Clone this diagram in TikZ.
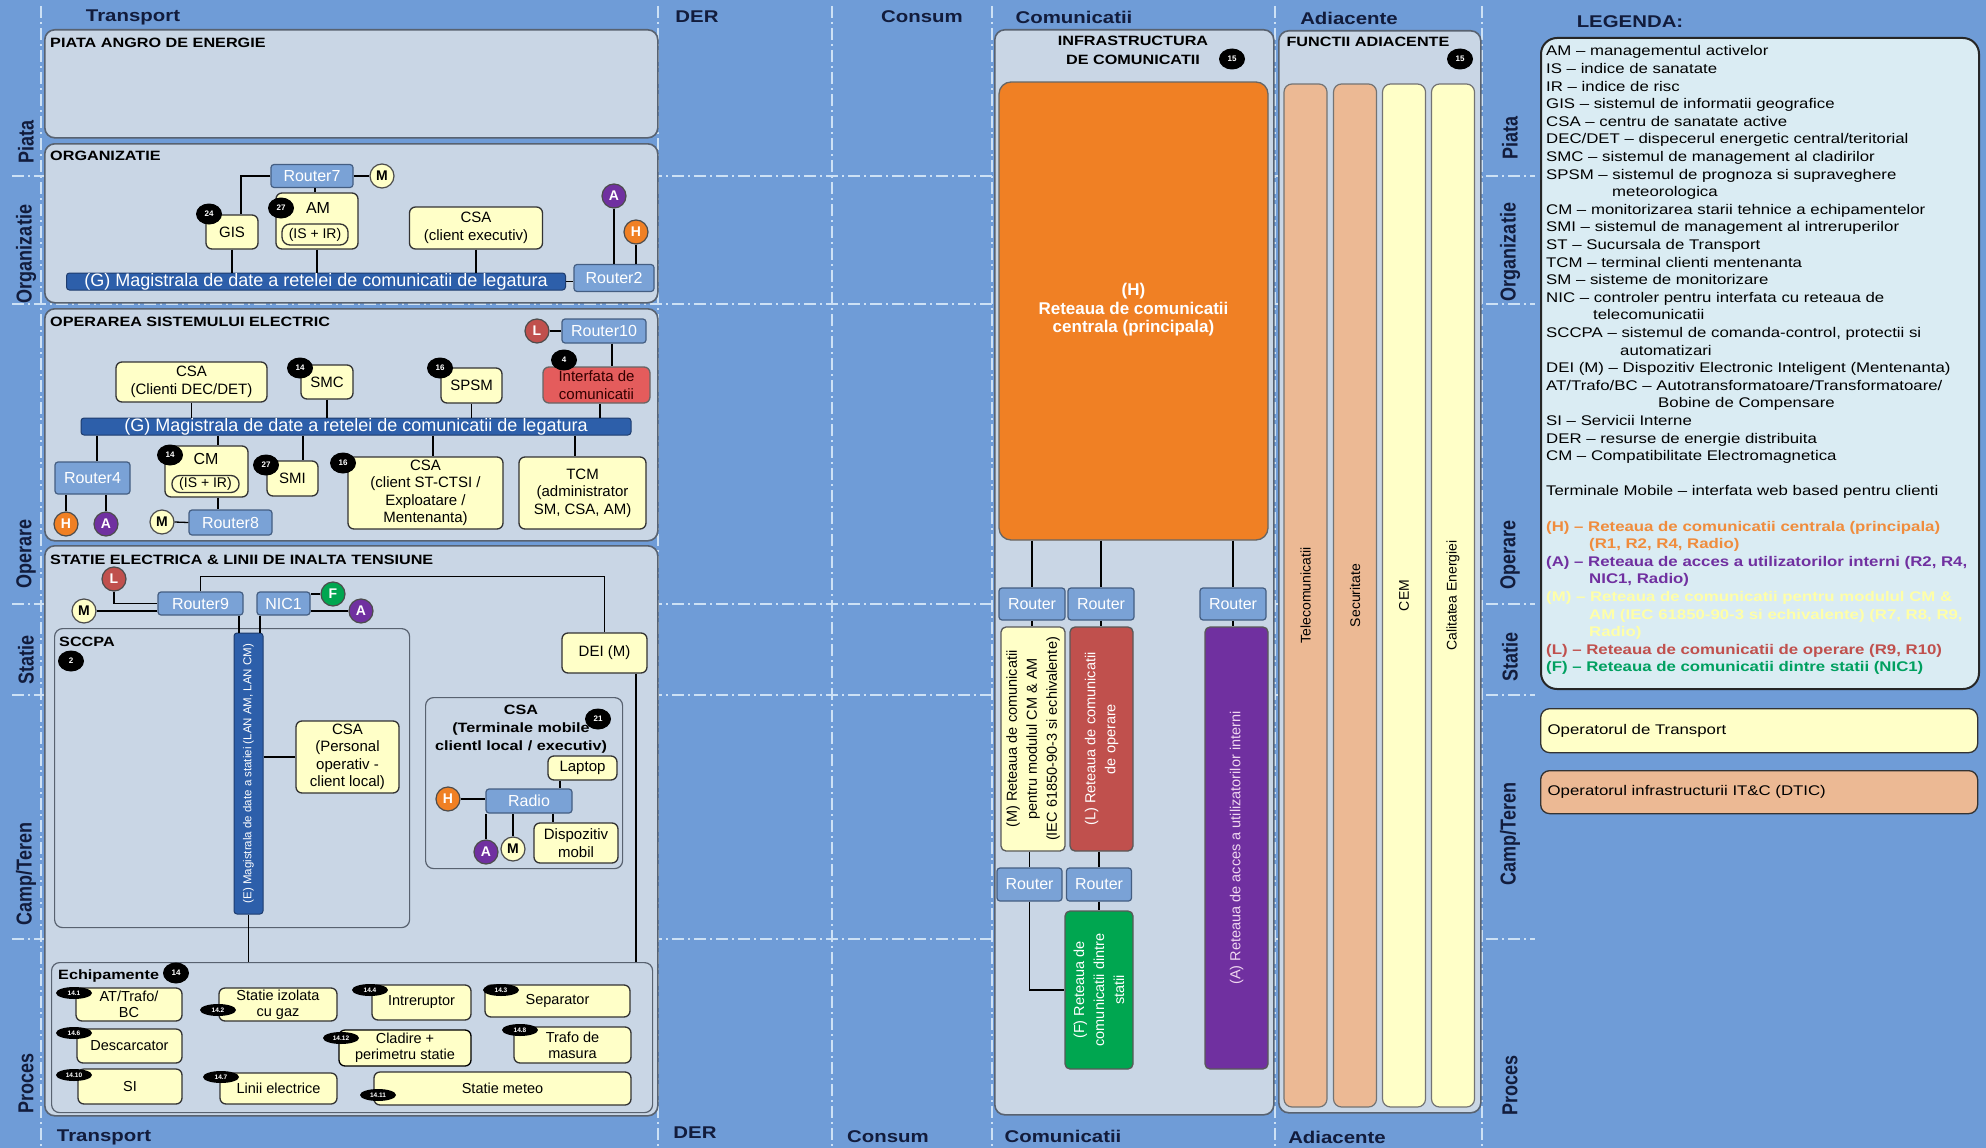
\documentclass[tikz,border=0pt]{standalone}
\usepackage{graphicx}
\usepackage{fontspec}
\setmainfont{Liberation Sans}
\newfontfamily\widefont[FakeStretch=1.2]{Liberation Sans}
\usetikzlibrary{positioning,calc,shapes.geometric}

\newcommand{\fz}[2]{\fontsize{#1}{#2}\selectfont}
\newcommand{\tallrow}[1]{\scalebox{1}[1.2]{#1}}

\definecolor{bgblue}{RGB}{111,156,215}
\definecolor{gridcol}{RGB}{205,225,245}
\definecolor{navy}{RGB}{18,28,60}
\definecolor{panelfill}{RGB}{201,214,229}
\definecolor{panelline}{RGB}{88,98,112}
\definecolor{cream}{RGB}{255,255,200}
\definecolor{routerfill}{RGB}{122,162,214}
\definecolor{routerline}{RGB}{68,94,130}
\definecolor{busfill}{RGB}{45,95,170}
\definecolor{busline}{RGB}{30,60,110}
\definecolor{netH}{RGB}{240,128,36}
\definecolor{netA}{RGB}{112,48,160}
\definecolor{netL}{RGB}{192,80,77}
\definecolor{netF}{RGB}{0,166,80}
\definecolor{intred}{RGB}{228,92,92}
\definecolor{peach}{RGB}{236,185,148}
\definecolor{legfill}{RGB}{218,236,243}
\definecolor{legH}{RGB}{240,140,60}
\definecolor{legA}{RGB}{112,48,160}
\definecolor{legM}{RGB}{255,255,168}
\definecolor{legL}{RGB}{192,80,77}
\definecolor{legF}{RGB}{0,160,96}
\definecolor{atext}{RGB}{240,215,240}

\tikzset{
  panel/.style={draw=panelline, fill=panelfill, rounded corners=10pt, line width=1.6pt, inner sep=0pt, anchor=north west},
  subpanel/.style={draw=panelline, fill=panelfill, rounded corners=8pt, line width=1.2pt, inner sep=0pt, anchor=north west},
  ptitle/.style={font=\widefont\bfseries\fz{13.5}{17}, anchor=west, inner sep=0pt, text=black},
  header/.style={font=\widefont\bfseries\fz{17}{20}, text=navy, inner sep=0pt},
  rowlbl/.style={font=\bfseries\fz{18}{20}, text=navy, rotate=90, inner sep=0pt},
  leaf/.style={draw=black!80, fill=cream, rounded corners=6pt, line width=1.3pt, align=center, inner sep=0pt, font=\fz{15}{17.5}},
  router/.style={draw=routerline, fill=routerfill, rounded corners=3pt, line width=1.2pt, inner sep=0pt, text=white, font=\fz{16}{18}},
  bus/.style={draw=busline, fill=busfill, rounded corners=3pt, line width=1pt, inner sep=0pt, text=white, font=\fz{18}{20}},
  net/.style={circle, draw=black!70, line width=1.2pt, inner sep=0pt, minimum size=24pt, text=white, font=\bfseries\fz{14}{14}},
  badge/.style={ellipse, fill=black, inner sep=0pt, minimum width=26pt, minimum height=21pt, text=white, font=\bfseries\fz{8}{8}},
  minibadge/.style={ellipse, fill=black, inner sep=0pt, minimum width=36pt, minimum height=12pt, text=white, font=\bfseries\fz{6.5}{7}},
  netbox/.style={draw=black!65, rounded corners=5pt, line width=1.3pt, inner sep=0pt, minimum width=63, minimum height=224},
  colbox/.style={draw=black!55, rounded corners=8pt, line width=1.2pt, inner sep=0pt, rotate=90, minimum width=1023, minimum height=43, font=\fz{14}{16}},
  wire/.style={line width=1.3pt, black},
  gridln/.style={gridcol, line width=1.3pt, dash pattern=on 12pt off 4pt on 2pt off 4pt},
}

\begin{document}
\begin{tikzpicture}[x=1pt,y=-1pt]
        \useasboundingbox (0,0) rectangle (1986,1148);
        \fill[bgblue] (0,0) rectangle (1986,1148);

        % row and column guide lines
        \foreach \yy in {176,304,604,695,939} \draw[gridln] (12,\yy) -- (1535,\yy);
        \foreach \xx in {41,658,832,992,1275,1482} \draw[gridln] (\xx,6) -- (\xx,1148);

        % column headers, top and bottom
        \node[header] (hTransport) at (133,17) {Transport};
        \node[header] (hDer) at (697,17) {DER};
        \node[header] (hConsum) at (922,17) {Consum};
        \node[header] (hComm) at (1074,17) {Comunicatii};
        \node[header] (hAdj) at (1349,18) {Adiacente};
        \node[header] (hLegend) at (1630,22) {LEGENDA:};
        \node[header] (fTransport) at (104,1137) {Transport};
        \node[header] (fDer) at (695,1133) {DER};
        \node[header] (fConsum) at (888,1137) {Consum};
        \node[header] (fComm) at (1063,1136) {Comunicatii};
        \node[header] (fAdj) at (1337,1137) {Adiacente};

        % row labels, left and right
        \node[rowlbl] (lPiata) at (26,142) {\tallrow{Piata}};
        \node[rowlbl] (lOrg) at (26,254) {\tallrow{Organizatie}};
        \node[rowlbl] (lOper) at (26,554) {\tallrow{Operare}};
        \node[rowlbl] (lStatie) at (26,660) {\tallrow{Statie}};
        \node[rowlbl] (lCamp) at (26,874) {\tallrow{Camp/Teren}};
        \node[rowlbl] (lProces) at (26,1083) {\tallrow{Proces}};
        \node[rowlbl] (rPiata) at (1510,138) {\tallrow{Piata}};
        \node[rowlbl] (rOrg) at (1510,252) {\tallrow{Organizatie}};
        \node[rowlbl] (rOper) at (1510,555) {\tallrow{Operare}};
        \node[rowlbl] (rStatie) at (1510,657) {\tallrow{Statie}};
        \node[rowlbl] (rCamp) at (1510,834) {\tallrow{Camp/Teren}};
        \node[rowlbl] (rProces) at (1510,1085) {\tallrow{Proces}};

        % ================== Piata ==================
        \node[panel, minimum width=613, minimum height=108] (piata) at (44,29) {};
        \node[ptitle] (piataT) at (50,43) {PIATA ANGRO DE ENERGIE};

        % ================== Organizatie ==================
        \node[panel, minimum width=613, minimum height=159] (org) at (44,143) {};
        \node[ptitle] (orgT) at (50,156) {ORGANIZATIE};
        \node[router, minimum width=82, minimum height=23] (router7) at (312,176) {Router7};
        \node[net, fill=cream, text=black] (m7) at (382,176) {M};
        \node[leaf, minimum width=52, minimum height=34] (gis) at (232,232) {GIS};
        \node[leaf, minimum width=82, minimum height=56] (am) at (317,221) {};
        \node[font=\fz{16}{18}, inner sep=0pt] (amT) at (318,208) {AM};
        \node[leaf, rounded corners=8pt, minimum width=66, minimum height=21, font=\fz{14}{16}] (amIS) at (315,234.5) {(IS + IR)};
        \node[badge] (b24) at (209,214) {24};
        \node[badge] (b27) at (281,208) {27};
        \node[leaf, minimum width=133, minimum height=42] (csaExec) at (476,228) {CSA\\(client executiv)};
        \node[bus, minimum width=499, minimum height=17] (busOrg) at (316,281.5) {(G) Magistrala de date a retelei de comunicatii de legatura};
        \node[router, minimum width=80, minimum height=27] (router2) at (614,278) {Router2};
        \node[net, fill=netA] (a2) at (614,196) {A};
        \node[net, fill=netH] (h2) at (636,232) {H};

        % Organizatie wires
        \draw[wire] (router7.west) -| (gis.north -| 241,0);
        \draw[wire] (router7.east) -- (m7.west);
        \draw[wire] (router7.south -| 315,0) -- (am.north -| 315,0);
        \draw[wire] (gis.south) -- (gis.south |- busOrg.north);
        \draw[wire] (am.south) -- (am.south |- busOrg.north);
        \draw[wire] (csaExec.south) -- (csaExec.south |- busOrg.north);
        \draw[wire] (busOrg.east) -- (router2.west |- busOrg.east);
        \draw[wire] (a2.south) -- (a2.south |- router2.north);
        \draw[wire] (h2.south) -- (h2.south |- router2.north);

        % ================== Operarea ==================
        \node[panel, minimum width=613, minimum height=232] (oper) at (44,308) {};
        \node[ptitle] (operT) at (50,322) {OPERAREA SISTEMULUI ELECTRIC};
        \node[router, minimum width=84, minimum height=24] (router10) at (604,331) {Router10};
        \node[net, fill=netL] (l10) at (537,331) {L};
        \node[leaf, fill=intred, draw=black!60, minimum width=107, minimum height=36, text=black!80!red] (interfata) at (596.5,385) {Interfata de\\comunicatii};
        \node[badge] (b4) at (564,360) {4};
        \node[leaf, minimum width=151, minimum height=40] (csaDec) at (191.5,382) {CSA\\(Clienti DEC/DET)};
        \node[leaf, minimum width=52, minimum height=34] (smc) at (327,382) {SMC};
        \node[badge] (b14a) at (300,368) {14};
        \node[leaf, minimum width=61, minimum height=35] (spsm) at (471.5,385.5) {SPSM};
        \node[badge] (b16a) at (440,368) {16};
        \node[bus, minimum width=550, minimum height=17] (busOper) at (356,426.5) {(G) Magistrala de date a retelei de comunicatii de legatura};
        \node[router, minimum width=75, minimum height=32] (router4) at (92.5,478) {Router4};
        \node[net, fill=netH] (h4) at (66,524) {H};
        \node[net, fill=netA] (a4) at (106,524) {A};
        \node[leaf, minimum width=83, minimum height=51] (cm) at (206.5,471.5) {};
        \node[font=\fz{16}{18}, inner sep=0pt] (cmT) at (206,459) {CM};
        \node[leaf, rounded corners=8pt, minimum width=67, minimum height=17, font=\fz{14}{16}] (cmIS) at (205.5,484) {(IS + IR)};
        \node[badge] (b14b) at (170,455) {14};
        \node[router, minimum width=83, minimum height=25] (router8) at (230.5,522.5) {Router8};
        \node[net, fill=cream, text=black] (m8) at (162,522) {M};
        \node[leaf, minimum width=51, minimum height=35] (smi) at (292.5,478.5) {SMI};
        \node[badge] (b27b) at (266,465) {27};
        \node[leaf, minimum width=155, minimum height=72] (csaSt) at (425.5,493) {CSA\\(client ST-CTSI /\\Exploatare /\\Mentenanta)};
        \node[badge] (b16b) at (343,463) {16};
        \node[leaf, minimum width=127, minimum height=72] (tcm) at (582.5,493) {TCM\\(administrator\\SM, CSA, AM)};

        % Operarea wires
        \draw[wire] (l10.east) -- (router10.west);
        \draw[wire] (router10.south -| 612,0) -- (interfata.north -| 612,0);
        \draw[wire] (csaDec.south) -- (csaDec.south |- busOper.north);
        \draw[wire] (smc.south) -- (smc.south |- busOper.north);
        \draw[wire] (spsm.south) -- (spsm.south |- busOper.north);
        \draw[wire] (interfata.south -| 600,0) -- (busOper.north -| 600,0);
        \draw[wire] (busOper.south -| 97,0) -- (router4.north -| 97,0);
        \draw[wire] (busOper.south -| 218,0) -- (cm.north -| 218,0);
        \draw[wire] (cm.south -| 218,0) -- (router8.north -| 218,0);
        \draw[wire] (m8.east) -- (router8.west);
        \draw[wire] (busOper.south -| 303,0) -- (smi.north -| 303,0);
        \draw[wire] (busOper.south -| 433,0) -- (csaSt.north -| 433,0);
        \draw[wire] (busOper.south -| 575,0) -- (tcm.north -| 575,0);
        \draw[wire] (h4.north) -- (h4.north |- router4.south);
        \draw[wire] (a4.north) -- (a4.north |- router4.south);

        % ================== Statie ==================
        \node[panel, minimum width=613, minimum height=570] (statie) at (44,545) {};
        \node[ptitle] (statieT) at (50,560) {STATIE ELECTRICA \& LINII DE INALTA TENSIUNE};
        \node[subpanel, minimum width=355, minimum height=299] (sccpa) at (54,628) {};
        \node[ptitle] (sccpaT) at (59,642) {SCCPA};
        \node[badge] (b2) at (71,661) {2};
        \node[router, minimum width=85, minimum height=23] (router9) at (200.5,603.5) {Router9};
        \node[router, minimum width=53, minimum height=23] (nic1) at (283.5,603.5) {NIC1};
        \node[net, fill=netL] (l9) at (114,579) {L};
        \node[net, fill=cream, text=black] (m9) at (84,611) {M};
        \node[net, fill=netF] (f1) at (333,594) {F};
        \node[net, fill=netA] (a1) at (361,611) {A};
        \node[leaf, minimum width=85, minimum height=40] (dei) at (604.5,653) {DEI (M)};
        \node[bus, minimum width=29, minimum height=281] (busSt) at (248.5,773.5) {};
        \node[rotate=90, text=white, font=\fz{11.5}{13}, inner sep=0pt] (busStT) at (busSt.center) {(E) Magistrala de date a statiei (LAN AM, LAN CM)};
        \node[leaf, minimum width=103, minimum height=72] (csaOp) at (347.5,757) {CSA\\(Personal\\operativ -\\client local)};
        \node[subpanel, minimum width=197, minimum height=171] (csaMob) at (425,697) {};
        \node[font=\widefont\bfseries\fz{13.5}{17.7}, align=center, inner sep=0pt] (csaMobT) at (521,729) {CSA\\(Terminale mobile\\clientl local / executiv)};
        \node[badge] (b21) at (598,719) {21};
        \node[leaf, minimum width=69, minimum height=24] (laptop) at (582.5,768) {Laptop};
        \node[router, minimum width=86, minimum height=24] (radio) at (529,801) {Radio};
        \node[net, fill=netH] (hR) at (448,799) {H};
        \node[net, fill=netA] (aR) at (486,852) {A};
        \node[net, fill=cream, text=black] (mR) at (513,849) {M};
        \node[leaf, minimum width=84, minimum height=40] (dispMob) at (576,843) {Dispozitiv\\mobil};

        % Echipamente
        \node[subpanel, minimum width=601, minimum height=150] (echip) at (51,962) {};
        \node[ptitle] (echipT) at (58,976) {Echipamente};
        \node[badge] (b14) at (176,973) {14};
        \node[leaf, minimum width=106, minimum height=33, font=\fz{14.5}{16}] (atTrafo) at (129,1004.5) {AT/Trafo/\\BC};
        \node[minibadge] (b141) at (74,993) {14.1};
        \node[leaf, minimum width=118, minimum height=33, font=\fz{14.5}{16}] (statIz) at (278,1004.5) {Statie izolata\\cu gaz};
        \node[minibadge] (b142) at (218,1010) {14.2};
        \node[leaf, minimum width=99, minimum height=35, font=\fz{14.5}{16}] (intrer) at (421.5,1002.5) {Intreruptor};
        \node[minibadge] (b144) at (370,990) {14.4};
        \node[leaf, minimum width=145, minimum height=32, font=\fz{14.5}{16}] (separ) at (557.5,1001) {Separator};
        \node[minibadge] (b143) at (501,990) {14.3};
        \node[leaf, minimum width=105, minimum height=34, font=\fz{14.5}{16}] (descarc) at (129.5,1046) {Descarcator};
        \node[minibadge] (b146) at (74,1033) {14.6};
        \node[leaf, draw=black, minimum width=132, minimum height=36, font=\fz{14.5}{16}] (cladire) at (405,1048) {Cladire +\\perimetru statie};
        \node[minibadge] (b1412) at (341,1038) {14.12};
        \node[leaf, minimum width=117, minimum height=36, font=\fz{14.5}{16}] (trafoM) at (572.5,1045) {Trafo de\\masura};
        \node[minibadge] (b148) at (520,1030) {14.8};
        \node[leaf, minimum width=104, minimum height=35, font=\fz{14.5}{16}] (si) at (130,1086.5) {SI};
        \node[minibadge] (b1410) at (74,1075) {14.10};
        \node[leaf, minimum width=117, minimum height=31, font=\fz{14.5}{16}] (linii) at (278.5,1088.5) {Linii electrice};
        \node[minibadge] (b147) at (221,1077) {14.7};
        \node[leaf, minimum width=257, minimum height=33, font=\fz{14.5}{16}] (meteo) at (502.5,1088.5) {Statie meteo};
        \node[minibadge] (b1411) at (378,1095) {14.11};

        % Statie wires
        \draw[wire] (l9.south) |- (router9.west);
        \draw[wire] (m9.east) -- (router9.west |- m9.east);
        \draw[wire] (router9.north) -- ++(0,-15) -| (dei.north);
        \draw[wire] (router9.south -| 239,0) -- (busSt.north -| 239,0);
        \draw[wire] (nic1.south -| 260,0) -- (busSt.north -| 260,0);
        \draw[wire] (nic1.east |- f1.west) -- (f1.west);
        \draw[wire] (nic1.east |- a1.west) -- (a1.west);
        \draw[wire] (busSt.east |- csaOp.west) -- (csaOp.west);
        \draw[wire] (busSt.south) -- (busSt.south |- echip.north);
        \draw[wire] (dei.south -| 636,0) -- (echip.north -| 636,0);
        \draw[wire] (laptop.south -| 560,0) -- (radio.north -| 560,0);
        \draw[wire] (hR.east) -- (radio.west |- hR.east);
        \draw[wire] (aR.north) -- (aR.north |- radio.south);
        \draw[wire] (mR.north) -- (mR.north |- radio.south);
        \draw[wire] (radio.south -| 553,0) -- (dispMob.north -| 553,0);

        % ================== Comunicatii ==================
        \node[panel, minimum width=279, minimum height=1085] (comm) at (994,29) {};
        \node[font=\widefont\bfseries\fz{13.5}{19}, align=center, inner sep=0pt] (commT) at (1133,50.5) {INFRASTRUCTURA\\DE COMUNICATII};
        \node[badge] (b15a) at (1232,59) {15};
        \node[draw=black!60, fill=netH, rounded corners=12pt, line width=1.3pt, minimum width=269, minimum height=458] (hNet) at (1133.5,311) {};
        \node[text=white, font=\bfseries\fz{17}{18.5}, align=center] (hNetT) at (1133.5,310) {(H)\\Reteaua de comunicatii\\centrala (principala)};
        \node[router, minimum width=66, minimum height=32] (rtM) at (1032,604) {Router};
        \node[router, minimum width=66, minimum height=32] (rtL) at (1101,604) {Router};
        \node[router, minimum width=66, minimum height=32] (rtA) at (1233,604) {Router};
        \node[netbox, fill=cream, minimum width=64] (mNet) at (1033,739) {};
        \node[rotate=90, align=center, font=\fz{14.5}{20}, inner sep=0pt] (mNetT) at (mNet.center) {(M) Reteaua de comunicatii\\pentru modulul CM \& AM\\(IEC 61850-90-3 si echivalente)};
        \node[netbox, fill=netL] (lNet) at (1101.5,739) {};
        \node[rotate=90, align=center, text=white, font=\fz{14.5}{20}, inner sep=0pt] (lNetT) at (lNet.center) {(L) Reteaua de comunicatii\\de operare};
        \node[netbox, fill=netA, minimum height=442] (aNet) at (1236.5,848) {};
        \node[rotate=90, text=atext, font=\fz{14.5}{20}, inner sep=0pt] (aNetT) at (aNet.center) {(A) Reteaua de acces a utilizatorilor interni};
        \node[router, minimum width=65, minimum height=33] (rtM2) at (1029.5,884.5) {Router};
        \node[router, minimum width=65, minimum height=33] (rtL2) at (1099,884.5) {Router};
        \node[netbox, fill=netF, minimum width=68, minimum height=158] (fNet) at (1099,990) {};
        \node[rotate=90, align=center, text=white, font=\fz{14.5}{20}, inner sep=0pt] (fNetT) at (fNet.center) {(F) Reteaua de\\comunicatii dintre\\statii};

        % Comunicatii wires
        \draw[wire] (hNet.south -| rtM.north) -- (rtM.north);
        \draw[wire] (hNet.south -| rtL.north) -- (rtL.north);
        \draw[wire] (hNet.south -| rtA.north) -- (rtA.north);
        \draw[wire] (rtM.south) -- (rtM.south |- mNet.north);
        \draw[wire] (rtL.south) -- (rtL.south |- lNet.north);
        \draw[wire] (rtA.south) -- (rtA.south |- aNet.north);
        \draw[wire] (mNet.south -| rtM2.north) -- (rtM2.north);
        \draw[wire] (lNet.south -| rtL2.north) -- (rtL2.north);
        \draw[wire] (rtM2.south) |- (fNet.west);
        \draw[wire] (rtL2.south) -- (rtL2.south |- fNet.north);

        % ================== Adiacente ==================
        \node[panel, minimum width=202, minimum height=1082] (adj) at (1278,30) {};
        \node[font=\widefont\bfseries\fz{13.5}{16}, inner sep=0pt] (adjT) at (1368,42) {FUNCTII ADIACENTE};
        \node[badge] (b15b) at (1460,59) {15};
        \node[colbox, fill=peach] (colTel) at (1305.5,595.5) {Telecomunicatii};
        \node[colbox, fill=peach] (colSec) at (1355,595.5) {Securitate};
        \node[colbox, fill=cream] (colCem) at (1404,595.5) {CEM};
        \node[colbox, fill=cream] (colCal) at (1453,595.5) {Calitatea Energiei};

        % ================== Legenda ==================
        \node[draw=black!85, fill=legfill, rounded corners=16pt, line width=2pt, inner sep=0pt, minimum width=438, minimum height=651, anchor=north west] (legend) at (1540,37) {};
        \node[anchor=north west, align=left, inner sep=0pt, font=\widefont\fz{14}{17.6}] (legendT) at (1546,45.5) {%
AM – managementul activelor\\
IS – indice de sanatate\\
IR – indice de risc\\
GIS – sistemul de informatii geografice\\
CSA – centru de sanatate active\\
DEC/DET – dispecerul energetic central/teritorial\\
SMC – sistemul de management al cladirilor\\
SPSM – sistemul de prognoza si supraveghere\\
\hspace*{66pt}meteorologica\\
CM – monitorizarea starii tehnice a echipamentelor\\
SMI – sistemul de management al intreruperilor\\
ST – Sucursala de Transport\\
TCM – terminal clienti mentenanta\\
SM – sisteme de monitorizare\\
NIC – controler pentru interfata cu reteaua de\\
\hspace*{47pt}telecomunicatii\\
SCCPA – sistemul de comanda-control, protectii si\\
\hspace*{74pt}automatizari\\
DEI (M) – Dispozitiv Electronic Inteligent (Mentenanta)\\
AT/Trafo/BC – Autotransformatoare/Transformatoare/\\
\hspace*{112pt}Bobine de Compensare\\
SI – Servicii Interne\\
DER – resurse de energie distribuita\\
CM – Compatibilitate Electromagnetica\\[17.6pt]
Terminale Mobile – interfata web based pentru clienti\\[17.6pt]
{\bfseries\color{legH}(H) – Reteaua de comunicatii centrala (principala)}\\
{\bfseries\color{legH}\hspace*{43pt}(R1, R2, R4, Radio)}\\
{\bfseries\color{legA}(A) – Reteaua de acces a utilizatorilor interni (R2, R4,}\\
{\bfseries\color{legA}\hspace*{43pt}NIC1, Radio)}\\
{\bfseries\color{legM}(M) – Reteaua de comunicatii pentru modulul CM \&}\\
{\bfseries\color{legM}\hspace*{43pt}AM (IEC 61850-90-3 si echivalente) (R7, R8, R9,}\\
{\bfseries\color{legM}\hspace*{43pt}Radio)}\\
{\bfseries\color{legL}(L) – Reteaua de comunicatii de operare (R9, R10)}\\
{\bfseries\color{legF}(F) – Reteaua de comunicatii dintre statii (NIC1)}};
        \node[leaf, anchor=north west, minimum width=437, minimum height=44, rounded corners=9pt, align=left, text width=423, inner xsep=7pt, font=\widefont\fz{14}{17}] (opTransport) at (1540,708) {Operatorul de Transport};
        \node[leaf, fill=peach, anchor=north west, minimum width=437, minimum height=43, rounded corners=9pt, align=left, text width=423, inner xsep=7pt, font=\widefont\fz{14}{17}] (opIT) at (1540,770) {Operatorul infrastructurii IT\&C (DTIC)};
\end{tikzpicture}
\end{document}
